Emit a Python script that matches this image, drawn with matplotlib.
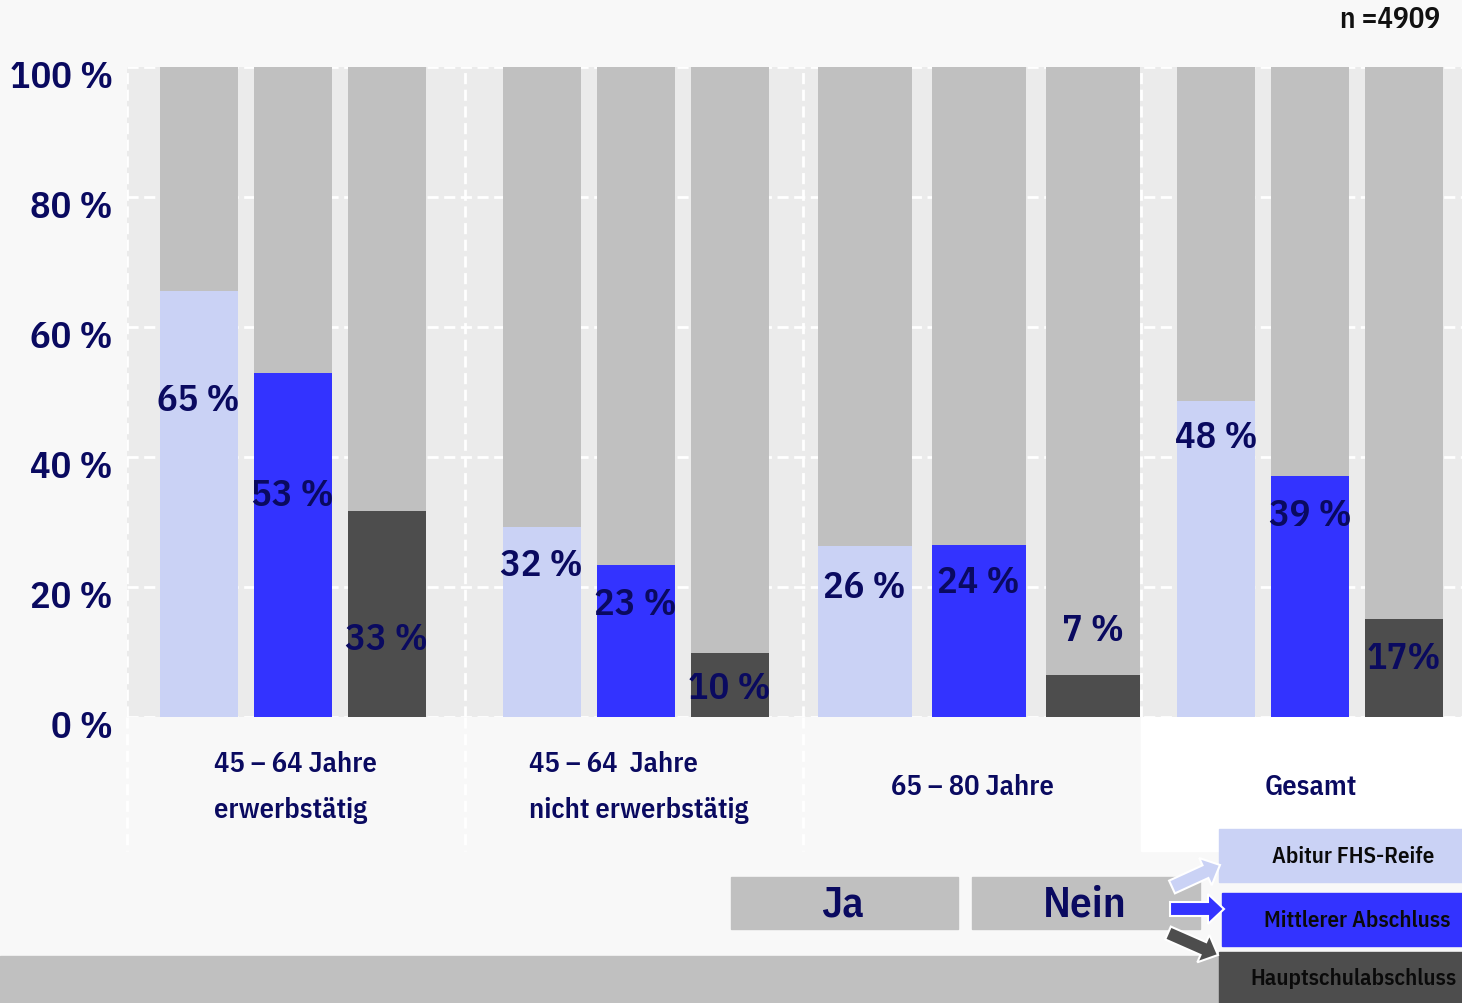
import matplotlib
matplotlib.use("Agg")
import matplotlib.pyplot as plt
import matplotlib.transforms as mtrans
from matplotlib.patches import Rectangle, FancyArrow

plt.rcParams['font.family'] = ['IBM Plex Sans Condensed', 'DejaVu Sans']
plt.rcParams['font.weight'] = 'semibold'

# Daten
gruppen = ['45 – 64 Jahre\nerwerbstätig', '45 – 64  Jahre\nnicht erwerbstätig',
           '65 – 80 Jahre', 'Gesamt']
abschluesse = ['Abitur FHS-Reife', 'Mittlerer Abschluss', 'Hauptschulabschluss']
# Balkenhöhen (Ja-Anteil) wie im Bild gezeichnet
abitur = [65.5, 29.2, 26.3, 48.6]
mittlerer = [52.9, 23.4, 26.5, 37.1]
haupt = [31.7, 9.8, 6.5, 15.1]
# Beschriftungen
lab_abitur = ['65 %', '32 %', '26 %', '48 %']
lab_mittlerer = ['53 %', '23 %', '24 %', '39 %']
lab_haupt = ['33 %', '10 %', '7 %', '17%']
n_text = 'n =4909'

# Layout (Position der Beschriftung in % der Achse)
label_y = [[48.9, 34.3, 12.0], [23.4, 17.5, 4.6], [20.0, 20.8, 13.5], [43.2, 31.2, 9.2]]

farben = ['#cad2f5', '#3333ff', '#4d4d4d']
grau = '#c0c0c0'
navy = '#0a0a60'

W, H = 1462, 1004
fig = plt.figure(figsize=(W / 100, H / 100), dpi=100, facecolor='#f8f8f8')

# Hintergrund-Achse in Pixelkoordinaten
bg = fig.add_axes([0, 0, 1, 1])
bg.set_xlim(0, W)
bg.set_ylim(H, 0)
bg.axis('off')
bg.set_zorder(0)

ax = fig.add_axes([127 / W, (H - 718) / H, (W - 127) / W, 650 / H])
ax.set_zorder(1)
ax.set_facecolor('#ebebeb')
ax.set_xlim(-0.5, 3.45)
ax.set_ylim(0, 100)

spacing = [0.278, 0.278, 0.337, 0.278]
breite = [0.231, 0.231, 0.278, 0.231]
shift = [-0.01, 0.005, 0.02, 0.0]

werte = [abitur, mittlerer, haupt]
labels = [lab_abitur, lab_mittlerer, lab_haupt]
for g in range(len(gruppen)):
    for k in range(3):
        x = g + shift[g] + (k - 1) * spacing[g]
        h = werte[k][g]
        ax.bar(x, h, width=breite[g], color=farben[k], zorder=3)
        ax.bar(x, 100 - h, bottom=h, width=breite[g], color=grau, zorder=3)
        ax.text(x, label_y[g][k], labels[k][g], ha='center', va='center',
                fontsize=27.5, color=navy, zorder=4)

# Gitter
for y in range(0, 101, 20):
    ax.axhline(y, color='white', lw=2, ls=(0, (4, 2)), zorder=1)
for g in range(len(gruppen)):
    ax.axvline(g - 0.5, color='white', lw=2, ls=(0, (4, 2)), zorder=1)

ax.set_xticks([])
ax.set_yticks(range(0, 101, 20))
ax.set_yticklabels([f'{v} %' for v in range(0, 101, 20)], fontsize=27.5, color=navy)
ax.tick_params(axis='y', length=0, pad=10)
versatz = mtrans.ScaledTranslation(0, -6 / 100, fig.dpi_scale_trans)
for lbl in ax.get_yticklabels():
    lbl.set_transform(lbl.get_transform() + versatz)
for s in ax.spines.values():
    s.set_visible(False)

# Bereich unter der Achse
bg.add_patch(Rectangle((1141, 718), W - 1141, 134, color='white', zorder=1))
for xs in [127, 465, 803]:
    bg.plot([xs, xs], [718, 852], color='white', lw=2, ls=(0, (4, 2)), zorder=2)

kat = dict(fontsize=20.5, color=navy, va='center')
bg.text(214, 765, '45 – 64 Jahre', ha='left', **kat)
bg.text(214, 811, 'erwerbstätig', ha='left', **kat)
bg.text(529, 765, '45 – 64  Jahre', ha='left', **kat)
bg.text(529, 811, 'nicht erwerbstätig', ha='left', **kat)
bg.text(972, 788, gruppen[2], ha='center', **kat)
bg.text(1311, 788, gruppen[3], ha='center', **kat)

bg.text(1440, 20, n_text, fontsize=21, color='#111111', va='center', ha='right')

# Untere Leiste
bg.add_patch(Rectangle((0, 957), W, H - 957, color=grau, zorder=1))
bg.add_patch(Rectangle((731, 878), 227, 52, color=grau, zorder=1))
bg.add_patch(Rectangle((972, 878), 228, 52, color=grau, zorder=1))
bg.text(843, 905, 'Ja', fontsize=31, color=navy, ha='center', va='center', zorder=3)
bg.text(1085, 905, 'Nein', fontsize=31, color=navy, ha='center', va='center', zorder=3)

# Legende
boxen = [(1219, 830, 53), (1222, 894, 53), (1219, 953, 51)]
mitten = [1353, 1357, 1353]
for (bx, by, bh), farbe, name, mx in zip(boxen, farben, abschluesse, mitten):
    bg.add_patch(Rectangle((bx, by), W - bx, bh, color=farbe, zorder=2))
    bg.text(mx, by + bh / 2, name, fontsize=16.5, color='#0a0a0a',
            ha='center', va='center', zorder=3)

pfeile = [(1172, 888, 48, -22), (1170, 910, 54, 0), (1168, 934, 50, 22)]
for (px, py, dx, dy), farbe in zip(pfeile, farben):
    bg.add_patch(FancyArrow(px, py, dx, dy, width=14, head_width=30, head_length=16,
                            length_includes_head=True, facecolor=farbe,
                            edgecolor='white', lw=1.5, zorder=4))

fig.savefig('out.png', dpi=100, facecolor=fig.get_facecolor())
